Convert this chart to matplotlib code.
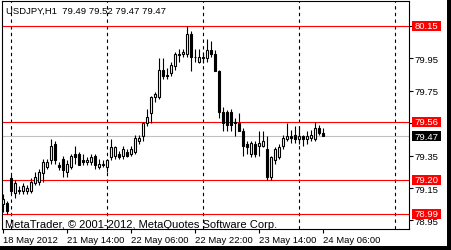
import numpy as np
import pandas as pd
import matplotlib
matplotlib.use('Agg')
import matplotlib.pyplot as plt
from matplotlib.patches import Rectangle

plt.rcParams['font.family'] = ['Liberation Sans', 'DejaVu Sans']

# USDJPY H1 bars
opens = [79.05, 79.06, 79.21, 79.12, 79.14, 79.13, 79.13, 79.13, 79.18, 79.19,
         79.24, 79.28, 79.32, 79.42, 79.29, 79.33, 79.25, 79.28, 79.36, 79.36,
         79.32, 79.31, 79.31, 79.35, 79.28, 79.29, 79.28, 79.34, 79.35, 79.36,
         79.35, 79.37, 79.36, 79.37, 79.44, 79.47, 79.55, 79.61, 79.71, 79.71,
         79.88, 79.85, 79.86, 79.90, 79.97, 79.98, 79.98, 80.10, 79.96, 79.93,
         79.96, 79.95, 80.00, 79.98, 79.87, 79.62, 79.62, 79.62, 79.55, 79.55,
         79.50, 79.42, 79.36, 79.42, 79.41, 79.41, 79.39, 79.22, 79.32, 79.34,
         79.41, 79.45, 79.47, 79.48, 79.45, 79.47, 79.45, 79.46, 79.45, 79.52,
         79.49]
highs = [79.11, 79.07, 79.23, 79.20, 79.16, 79.18, 79.17, 79.21, 79.25, 79.27,
         79.33, 79.33, 79.45, 79.44, 79.31, 79.35, 79.32, 79.36, 79.41, 79.37,
         79.36, 79.34, 79.36, 79.36, 79.33, 79.32, 79.33, 79.45, 79.41, 79.38,
         79.41, 79.39, 79.41, 79.48, 79.48, 79.56, 79.64, 79.72, 79.74, 79.95,
         79.95, 79.89, 79.93, 79.99, 80.01, 80.01, 80.15, 80.12, 80.01, 80.01,
         79.99, 80.07, 80.06, 80.00, 79.88, 79.65, 79.63, 79.64, 79.58, 79.61,
         79.52, 79.44, 79.44, 79.44, 79.50, 79.50, 79.47, 79.35, 79.40, 79.42,
         79.48, 79.55, 79.51, 79.53, 79.53, 79.48, 79.50, 79.51, 79.56, 79.54,
         79.52]
lows = [79.00, 78.99, 79.12, 79.09, 79.11, 79.11, 79.11, 79.12, 79.17, 79.17,
        79.19, 79.27, 79.30, 79.30, 79.26, 79.22, 79.22, 79.27, 79.30, 79.29,
        79.29, 79.29, 79.29, 79.27, 79.27, 79.28, 79.25, 79.32, 79.33, 79.33,
        79.33, 79.34, 79.35, 79.36, 79.42, 79.44, 79.53, 79.55, 79.68, 79.70,
        79.82, 79.82, 79.84, 79.88, 79.93, 79.96, 79.96, 79.87, 79.93, 79.92,
        79.92, 79.93, 79.96, 79.87, 79.58, 79.50, 79.50, 79.50, 79.47, 79.50,
        79.35, 79.36, 79.34, 79.34, 79.35, 79.40, 79.20, 79.20, 79.30, 79.33,
        79.39, 79.44, 79.43, 79.43, 79.42, 79.41, 79.42, 79.44, 79.44, 79.48,
        79.47]
closes = [79.08, 79.01, 79.13, 79.18, 79.13, 79.16, 79.15, 79.19, 79.22, 79.25,
          79.31, 79.31, 79.41, 79.32, 79.28, 79.26, 79.30, 79.35, 79.34, 79.29,
          79.31, 79.32, 79.34, 79.29, 79.30, 79.30, 79.32, 79.40, 79.40, 79.34,
          79.39, 79.35, 79.39, 79.46, 79.46, 79.55, 79.59, 79.71, 79.73, 79.88,
          79.84, 79.84, 79.91, 79.98, 79.98, 79.99, 80.10, 79.96, 79.96, 79.96,
          79.95, 80.00, 79.98, 79.87, 79.62, 79.55, 79.54, 79.54, 79.56, 79.50,
          79.41, 79.40, 79.43, 79.36, 79.43, 79.44, 79.22, 79.34, 79.39, 79.40,
          79.46, 79.47, 79.46, 79.45, 79.47, 79.45, 79.47, 79.48, 79.52, 79.49,
          79.47]

levels = [80.15, 79.56, 79.20, 78.99]
bid = 79.47
y_ticks = [78.95, 79.15, 79.35, 79.55, 79.75, 79.95, 80.15]
# 79.55 and 80.15 sit fully under the price tags
y_tick_labels = ['78.95', '79.15', '79.35', '', '79.75', '79.95', '']
x_tick_bars = [0, 16, 32, 48, 64, 80]
x_tick_labels = ['18 May 2012', '21 May 14:00', '22 May 06:00',
                 '22 May 22:00', '23 May 14:00', '24 May 06:00']
header = 'USDJPY,H1  79.49 79.52 79.47 79.47'
footer = 'MetaTrader, \u00a9 2001-2012, MetaQuotes Software Corp.'

# bar times (friday close, weekend gap, then hourly), used for day separators
times = pd.DatetimeIndex(['2012-05-18 22:00', '2012-05-18 23:00']).append(
    pd.date_range('2012-05-21 00:00', periods=100, freq='h'))

W, H = 451, 251
fs = 6.8
fig = plt.figure(figsize=(W / 100, H / 100), dpi=100)
fig.patch.set_facecolor('white')
ax = fig.add_axes([2 / W, 21 / H, 407 / W, 228 / H])
ax.set_xlim(-0.25, 101.5)
ax.set_ylim(78.897, 80.304)

for s in ax.spines.values():
    s.set_color('black')
    s.set_linewidth(0.8)

# day separators
sep = [i for i, t in enumerate(times) if t.hour == 0 and i < 101.5]
for i in sep:
    ax.axvline(i, color='black', lw=0.8, ls=(0, (3, 3)), zorder=1)

for lv in levels:
    ax.axhline(lv, color='#ff0000', lw=0.8, zorder=1)
ax.axhline(bid, color='#c0c0c0', lw=0.8, zorder=1)

x = np.arange(len(opens))
ax.vlines(x, lows, highs, color='black', lw=0.8, zorder=3)
for xi, o, c in zip(x, opens, closes):
    fc = 'white' if c >= o else 'black'
    ax.add_patch(Rectangle((xi - 0.25, min(o, c)), 0.5, abs(c - o),
                           fc=fc, ec='black', lw=0.8, zorder=4))

ax.yaxis.tick_right()
ax.set_yticks(y_ticks)
ax.set_yticklabels(y_tick_labels)
ax.set_xticks(x_tick_bars)
ax.set_xticklabels(x_tick_labels, ha='left')
ax.tick_params(axis='both', direction='out', length=3, width=0.8,
               labelsize=fs, colors='black', pad=1)

# price tags on the right scale
ytr = ax.get_yaxis_transform()
ppu = 228 / (80.304 - 78.897)
for lv, col in [(v, '#ff0000') for v in levels] + [(bid, 'black')]:
    ax.add_patch(Rectangle((410 / 407, lv - 5 / ppu), 29 / 407, 10 / ppu,
                           transform=ytr, fc=col, ec='none', clip_on=False, zorder=6))
    ax.text(424.5 / 407, lv, '%.2f' % lv, transform=ytr, color='white',
            fontsize=fs, ha='center', va='center', clip_on=False, zorder=7)

fig.text(6 / W, 1 - 11 / H, header, fontsize=fs, va='center', ha='left')
fig.text(5 / W, 1 - 225 / H, footer, fontsize=8, va='center', ha='left')

# window frame
fig.patches.append(Rectangle((447 / W, 0), 4 / W, 1, transform=fig.transFigure,
                             fc='black', ec='none'))
fig.patches.append(Rectangle((0, 0), 1, 4 / H, transform=fig.transFigure,
                             fc='black', ec='none'))

fig.savefig('out.png', dpi=100)
